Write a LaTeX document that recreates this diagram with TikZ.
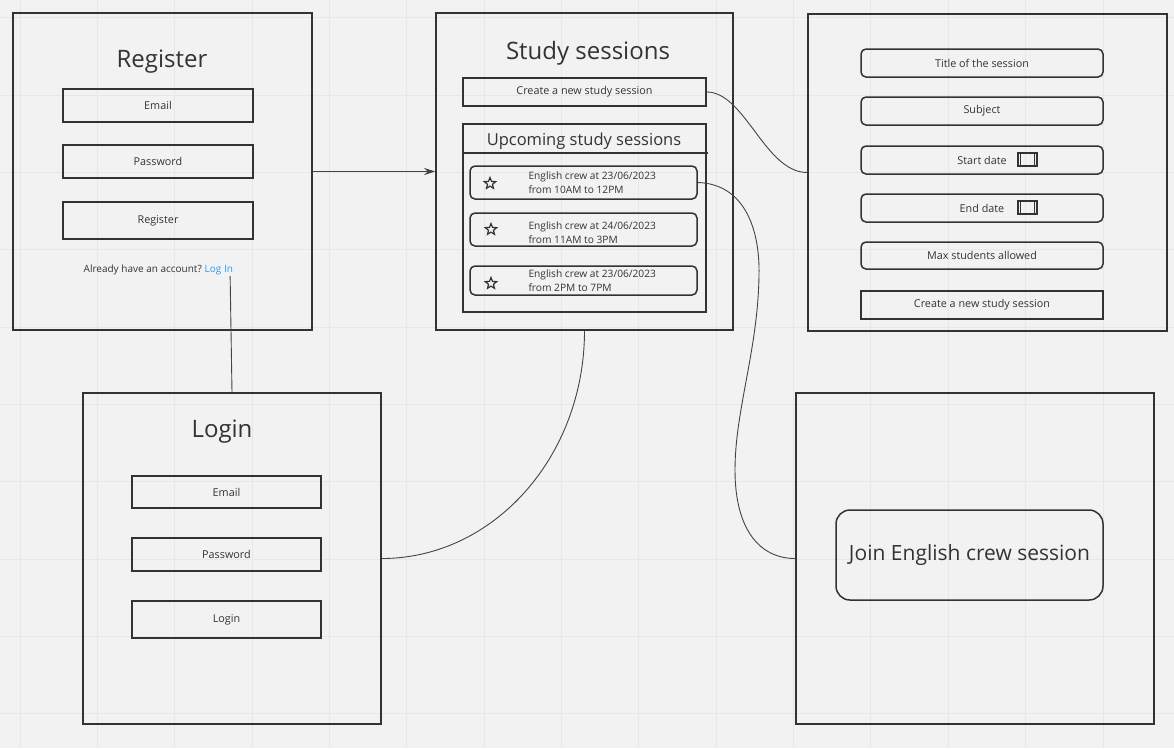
\documentclass[tikz,border=0pt]{standalone}
\usepackage{fontspec}
\setmainfont{Open Sans}
\usetikzlibrary{arrows.meta,shapes.geometric}
\definecolor{bg}{HTML}{F2F2F2}
\definecolor{gridc}{HTML}{E7E7E7}
\definecolor{ink}{HTML}{333333}
\definecolor{wirec}{HTML}{444444}
\definecolor{linkc}{HTML}{2D9BF0}
\begin{document}
\begin{tikzpicture}[x=1pt,y=-1pt,
  panel/.style={draw=ink, line width=1.6pt, inner sep=0pt},
  field/.style={draw=ink, line width=1.5pt, inner sep=0pt, text=ink, font=\fontsize{10.8}{13}\selectfont},
  rfield/.style={field, rounded corners=5pt},
  bigtitle/.style={text=ink, font=\fontsize{24}{28}\selectfont},
  small/.style={text=ink, font=\fontsize{10}{12}\selectfont},
  cardtext/.style={text=ink, anchor=west, align=left, font=\fontsize{10.2}{14}\selectfont},
  staricon/.style={star, star points=5, star point ratio=2.3, draw=ink, line width=1.2pt, minimum size=12pt, inner sep=0pt},
  calicon/.style={draw=ink, line width=1.2pt, minimum width=19pt, minimum height=13pt, inner sep=0pt},
  wire/.style={draw=wirec, line width=0.9pt}
]
\useasboundingbox (0,0) rectangle (1174,748);
\fill[bg] (0,0) rectangle (1174,748);
\foreach \i in {0,...,15} \draw[gridc, line width=0.8pt] ({20+77.35*\i},0) -- ++(0,748);
\foreach \j in {0,...,9} \draw[gridc, line width=0.8pt] (0,{17.7+77.35*\j}) -- ++(1174,0);

% Register panel
\node[panel, minimum width=299pt, minimum height=317pt] (reg) at (162.5,171.5) {};
\node[bigtitle] (regtitle) at (162,62) {Register};
\node[field, minimum width=190pt, minimum height=33pt] (regemail) at (158,105.5) {Email};
\node[field, minimum width=190pt, minimum height=33pt] (regpass) at (158,161.5) {Password};
\node[field, minimum width=190pt, minimum height=37pt] (regbtn) at (158,220.5) {Register};
\node[small, anchor=east, inner sep=0pt] (already) at (202,270) {Already have an account?};
\node[small, anchor=west, inner sep=0pt, text=linkc] (loglink) at (204.5,270) {Log In};

% Study sessions panel
\node[panel, minimum width=297pt, minimum height=317pt] (study) at (584.5,171.5) {};
\node[bigtitle] (studytitle) at (588,53) {Study sessions};
\node[field, minimum width=243pt, minimum height=28pt] (create) at (584.5,92) {Create a new study session};
\node[field, minimum width=243pt, minimum height=188pt] (upcoming) at (584.5,218) {};
\node[text=ink, font=\fontsize{16.5}{20}\selectfont] (uptitle) at (584,141) {Upcoming study sessions};
\coordinate (hl) at (708,153);
\draw[ink, line width=1.2pt] (upcoming.west |- hl) -- (hl);
\node[rfield, minimum width=227pt, minimum height=33pt] (card1) at (583.5,182.5) {};
\node[rfield, minimum width=227pt, minimum height=33pt] (card2) at (583.5,229.5) {};
\node[rfield, minimum width=227pt, minimum height=29pt] (card3) at (583.5,280.5) {};
\node[staricon] (star1) at (490,183.5) {};
\node[staricon] (star2) at (491,229.5) {};
\node[staricon] (star3) at (491,283.5) {};
\node[cardtext] (card1t) at (525,183) {English crew at 23/06/2023\\from 10AM to 12PM};
\node[cardtext] (card2t) at (525,233) {English crew at 24/06/2023\\from 11AM to 3PM};
\node[cardtext] (card3t) at (525,281) {English crew at 23/06/2023\\from 2PM to 7PM};

% New session form panel
\node[panel, minimum width=359pt, minimum height=317pt] (form) at (987.5,172.5) {};
\node[rfield, minimum width=242pt, minimum height=28pt] (ftitle) at (982,63) {Title of the session};
\node[rfield, minimum width=242pt, minimum height=28pt] (fsubject) at (982,111) {Subject};
\node[rfield, minimum width=242pt, minimum height=28pt] (fstart) at (982,160) {Start date};
\node[rfield, minimum width=242pt, minimum height=28pt] (fend) at (982,208) {End date};
\node[rfield, minimum width=242pt, minimum height=27pt] (fmax) at (982,255.5) {Max students allowed};
\node[field, minimum width=242pt, minimum height=28pt] (fcreate) at (982,305) {Create a new study session};
\node[calicon] (cal1) at (1027.5,159.5) {};
\node[calicon] (cal2) at (1027.5,207.5) {};
\foreach \c in {cal1,cal2} {
  \draw[ink, line width=1pt] ([xshift=3pt]\c.north west) -- ([xshift=3pt]\c.south west);
  \draw[ink, line width=1pt] ([xshift=-3pt]\c.north east) -- ([xshift=-3pt]\c.south east);
}

% Login panel
\node[panel, minimum width=298pt, minimum height=331pt] (login) at (232,558.5) {};
\node[bigtitle] (logintitle) at (222,432) {Login};
\node[field, minimum width=189pt, minimum height=32pt] (lemail) at (226.5,492) {Email};
\node[field, minimum width=189pt, minimum height=33pt] (lpass) at (226.5,554.5) {Password};
\node[field, minimum width=189pt, minimum height=37pt] (lbtn) at (226.5,619.5) {Login};

% Join panel
\node[panel, minimum width=358pt, minimum height=331pt] (join) at (975,558.5) {};
\node[draw=ink, line width=1.5pt, rounded corners=14pt, minimum width=267pt, minimum height=90pt, inner sep=0pt, text=ink, font=\fontsize{21}{25}\selectfont] (joinbtn) at (969.5,555) {Join English crew session};

% Connectors
\draw[wire, -{Stealth[length=11pt,width=7pt]}] (reg.east) -- (study.west);
\draw[wire] ([xshift=-3pt, yshift=-1pt]loglink.south east) -- (login.north);
\draw[wire] (create.east) .. controls (745,92) and (765,172.5) .. (form.west);
\draw[wire] (card1.east) .. controls (745,184) and (760,230) .. (759,275)
  .. controls (758,350) and (735,410) .. (735,470)
  .. controls (735,530) and (760,558.5) .. (join.west);
\draw[wire] (study.south) .. controls (584.5,456) and (494,558.5) .. (login.east);
\end{tikzpicture}
\end{document}
